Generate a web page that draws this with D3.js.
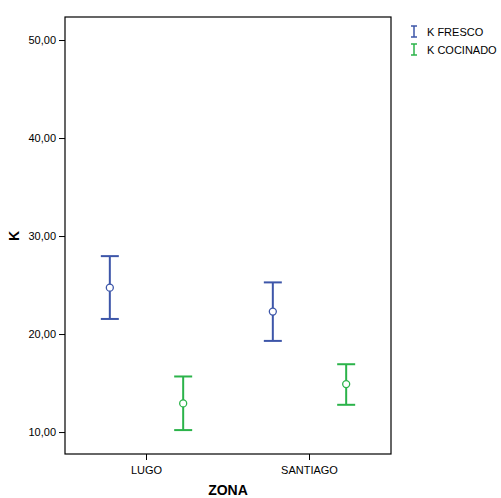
<!DOCTYPE html>
<html><head><meta charset="utf-8">
<script src="https://cdn.jsdelivr.net/npm/d3@7"></script>
<style>body{margin:0;background:#fff;} text{font-family:"Liberation Sans",Arial,sans-serif;}</style>
</head><body>
<svg id="c" width="501" height="498"></svg>
<script>
const zones = ["LUGO", "SANTIAGO"];
const seriesNames = ["K FRESCO", "K COCINADO"];
const seriesColors = ["#3d56a9", "#2bb34a"];
const freshMean = [24.73, 22.29];
const freshLow = [21.54, 19.3];
const freshHigh = [27.95, 25.27];
const cookedMean = [12.92, 14.89];
const cookedLow = [10.2, 12.78];
const cookedHigh = [15.67, 16.92];
const yTicks = [10, 20, 30, 40, 50];

const svg = d3.select("#c");
const L = 65, T = 17, R = 391, B = 454;
const x = d3.scaleBand().domain(zones).range([L, R]);
const y = d3.scaleLinear().domain([7.76, 52.35]).range([B, T]);
const fmt = d => d.toFixed(2).replace(".", ",");

svg.append("rect").attr("x", L).attr("y", T).attr("width", R - L).attr("height", B - T)
  .attr("fill", "none").attr("stroke", "#000").attr("stroke-width", 1.2);

const ya = svg.append("g").attr("transform", `translate(${L},0)`)
  .call(d3.axisLeft(y).tickValues(yTicks).tickFormat(fmt).tickSize(6).tickSizeOuter(0));
ya.select(".domain").remove();
ya.selectAll("text").attr("font-size", 11).attr("fill", "#000").attr("font-family", "Liberation Sans, Arial, sans-serif");
ya.selectAll("line").attr("stroke", "#000");

const xa = svg.append("g").attr("transform", `translate(0,${B})`)
  .call(d3.axisBottom(x).tickSize(6).tickSizeOuter(0).tickPadding(6));
xa.select(".domain").remove();
xa.selectAll("text").attr("font-size", 11).attr("fill", "#000").attr("font-family", "Liberation Sans, Arial, sans-serif");
xa.selectAll("line").attr("stroke", "#000");

svg.append("text").attr("x", 228).attr("y", 495).attr("text-anchor", "middle")
  .attr("font-size", 14).attr("font-weight", "bold").text("ZONA");
svg.append("text").attr("transform", "translate(19,236) rotate(-90)").attr("text-anchor", "middle")
  .attr("font-size", 14).attr("font-weight", "bold").text("K");

const off = x.bandwidth() * 0.225;
const series = [
  {mean: freshMean, low: freshLow, high: freshHigh, dx: -off, color: seriesColors[0]},
  {mean: cookedMean, low: cookedLow, high: cookedHigh, dx: off, color: seriesColors[1]}
];
series.forEach(s => {
  zones.forEach((z, i) => {
    const cx = x(z) + x.bandwidth() / 2 + s.dx;
    const g = svg.append("g").attr("stroke", s.color).attr("stroke-width", 2).attr("fill", "none");
    g.append("line").attr("x1", cx).attr("x2", cx).attr("y1", y(s.high[i])).attr("y2", y(s.low[i]));
    g.append("line").attr("x1", cx - 9).attr("x2", cx + 9).attr("y1", y(s.high[i])).attr("y2", y(s.high[i]));
    g.append("line").attr("x1", cx - 9).attr("x2", cx + 9).attr("y1", y(s.low[i])).attr("y2", y(s.low[i]));
    g.append("circle").attr("cx", cx).attr("cy", y(s.mean[i])).attr("r", 3.5).attr("fill", "#fff").attr("stroke-width", 1.3);
  });
});

seriesNames.forEach((n, i) => {
  const ly = 32 + i * 18;
  const lx = 414;
  const g = svg.append("g").attr("stroke", seriesColors[i]).attr("stroke-width", 1.5);
  g.append("line").attr("x1", lx).attr("x2", lx).attr("y1", ly - 6).attr("y2", ly + 5);
  g.append("line").attr("x1", lx - 3).attr("x2", lx + 3).attr("y1", ly - 6).attr("y2", ly - 6);
  g.append("line").attr("x1", lx - 3).attr("x2", lx + 3).attr("y1", ly + 5).attr("y2", ly + 5);
  svg.append("text").attr("x", 427).attr("y", ly + 4).attr("font-size", 11).text(n);
});
</script>
</body></html>
